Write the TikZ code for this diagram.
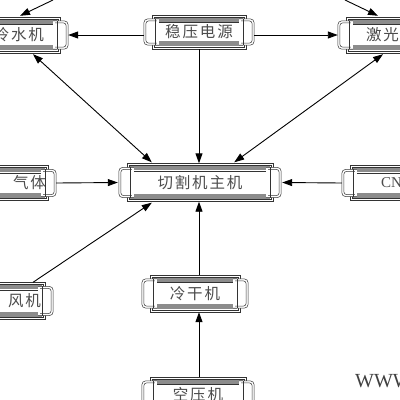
\documentclass[tikz,border=0pt]{standalone}
\usepackage{fontspec}
\setmainfont{Liberation Serif}
\newfontfamily\cjk[LetterSpace=12]{Noto Sans CJK SC}
\usetikzlibrary{calc,arrows.meta}
\tikzset{
  boxtext/.style={font=\cjk\fontsize{15.5}{17}\selectfont, text=black!70, inner sep=0pt, minimum height=35pt},
  boxline/.style={draw=black!80, line width=0.5pt},
  bandgray/.style={fill=black!45},
  arr/.style={draw=black, line width=0.9pt, -{Triangle[length=10pt,width=7pt]}},
  darr/.style={draw=black, line width=0.9pt, {Triangle[length=10pt,width=7pt]}-{Triangle[length=10pt,width=7pt]}},
}
\newcommand{\scrolldeco}[1]{%
  \fill[bandgray] ($(#1.north west)+(3,3)$) rectangle ($(#1.north east)+(-3,7)$);
  \fill[bandgray] ($(#1.south west)+(3,-3)$) rectangle ($(#1.south east)+(-3,-8)$);
  \fill[white] ($(#1.north west)+(3,7.6)$) rectangle ($(#1.south east)+(-3,-8.6)$);
  \draw[boxline] ($(#1.north west)+(3,7.6)$) -- ($(#1.north east)+(-3,7.6)$);
  \draw[boxline] (#1.north west) rectangle (#1.south east);
  \draw[boxline] ($(#1.north west)+(2,2)$) rectangle ($(#1.south east)+(-2,-2)$);
  \draw[boxline, fill=white, rounded corners=4pt] ($(#1.north east)+(-7,4)$) -- ($(#1.north east)+(8,4)$) -- ($(#1.south east)+(8,-4)$) -- ($(#1.south east)+(-7,-4)$);
  \draw[boxline, rounded corners=3pt] ($(#1.north east)+(-5,6)$) -- ($(#1.north east)+(6,6)$) -- ($(#1.south east)+(6,-6)$) -- ($(#1.south east)+(-5,-6)$);
  \draw[boxline] ($(#1.north east)+(-3,4)$) -- ($(#1.south east)+(-3,-4)$);
  \draw[boxline, fill=white, rounded corners=4pt] ($(#1.north west)+(7,4)$) -- ($(#1.north west)+(-8,4)$) -- ($(#1.south west)+(-8,-4)$) -- ($(#1.south west)+(7,-4)$);
  \draw[boxline, rounded corners=3pt] ($(#1.north west)+(5,6)$) -- ($(#1.north west)+(-6,6)$) -- ($(#1.south west)+(-6,-6)$) -- ($(#1.south west)+(5,-6)$);
  \draw[boxline] ($(#1.north west)+(3,4)$) -- ($(#1.south west)+(3,-4)$);
}
\newcommand{\scrollbox}[6]{% name, x, y, width, height, text
  \node[boxtext, minimum width=#4pt, minimum height=#5pt] (#1) at (#2,#3) {};
  \scrolldeco{#1}
  \node[boxtext, minimum width=#4pt, minimum height=#5pt] at (#2,#3) {#6};
}
\begin{document}
\begin{tikzpicture}[x=1pt,y=-1pt]
\useasboundingbox (0,0) rectangle (400,400);
\clip (0,0) rectangle (400,400);
\fill[white] (0,0) rectangle (400,400);

\scrollbox{lsj}{10}{35}{100}{36}{\makebox[100pt][r]{冷水机\hspace{16pt}}}
\scrollbox{wy}{199}{32}{94}{34}{稳压电源}
\scrollbox{jg}{390}{35}{88}{36}{\makebox[88pt][l]{\hspace{20pt}激光器}}
\scrollbox{qt}{8}{183}{80}{35}{\makebox[80pt][r]{气体\hspace{2pt}}}
\scrollbox{qg}{200}{182.5}{146}{38}{切割机主机}
\scrollbox{cnc}{390}{183}{80}{35}{\makebox[80pt][l]{\hspace{31pt}\rmfamily\fontsize{15}{17}\selectfont CNC}}
\scrollbox{fj}{5}{301}{80}{37}{\makebox[80pt][r]{风机\hspace{4pt}}}
\scrollbox{gj}{195}{293.5}{90}{37}{冷干机}
\scrollbox{ky}{198}{395}{96}{36}{空压机}

\node[font=\rmfamily\fontsize{20}{22}\selectfont, text=black!75, anchor=west, inner sep=0pt] (www) at (355,381) {WWW};

\coordinate (c1) at (53,0);
\coordinate (c2) at (345,0);

\draw[arr] (c1) -- ($(lsj.north)+(10,-1)$);
\draw[arr] ($(wy.west)+(-8,3)$) -- ($(lsj.east)+(8,0)$);
\draw[arr] ($(wy.east)+(8,3)$) -- ($(jg.west)+(-8,0)$);
\draw[arr] (c2) -- ($(jg.north)+(-12,-1)$);
\draw[darr] ($(lsj.south)+(23,1)$) -- ($(qg.north west)+(25,-1)$);
\draw[arr] (wy.south) -- (wy.south |- qg.north);
\draw[darr] ($(jg.south)+(-7,1)$) -- ($(qg.north east)+(-39,-1)$);
\draw[arr] ($(qt.east)+(8,0)$) -- ($(qg.west)+(-9,0)$);
\draw[arr] ($(cnc.west)+(-8,0)$) -- ($(qg.east)+(9,0)$);
\draw[arr] ($(fj.north)+(28,0)$) -- ($(qg.south west)+(25,1)$);
\draw[arr] (gj.north -| wy.south) -- (qg.south -| wy.south);
\draw[arr] (ky.north -| wy.south) -- (gj.south -| wy.south);
\end{tikzpicture}
\end{document}
